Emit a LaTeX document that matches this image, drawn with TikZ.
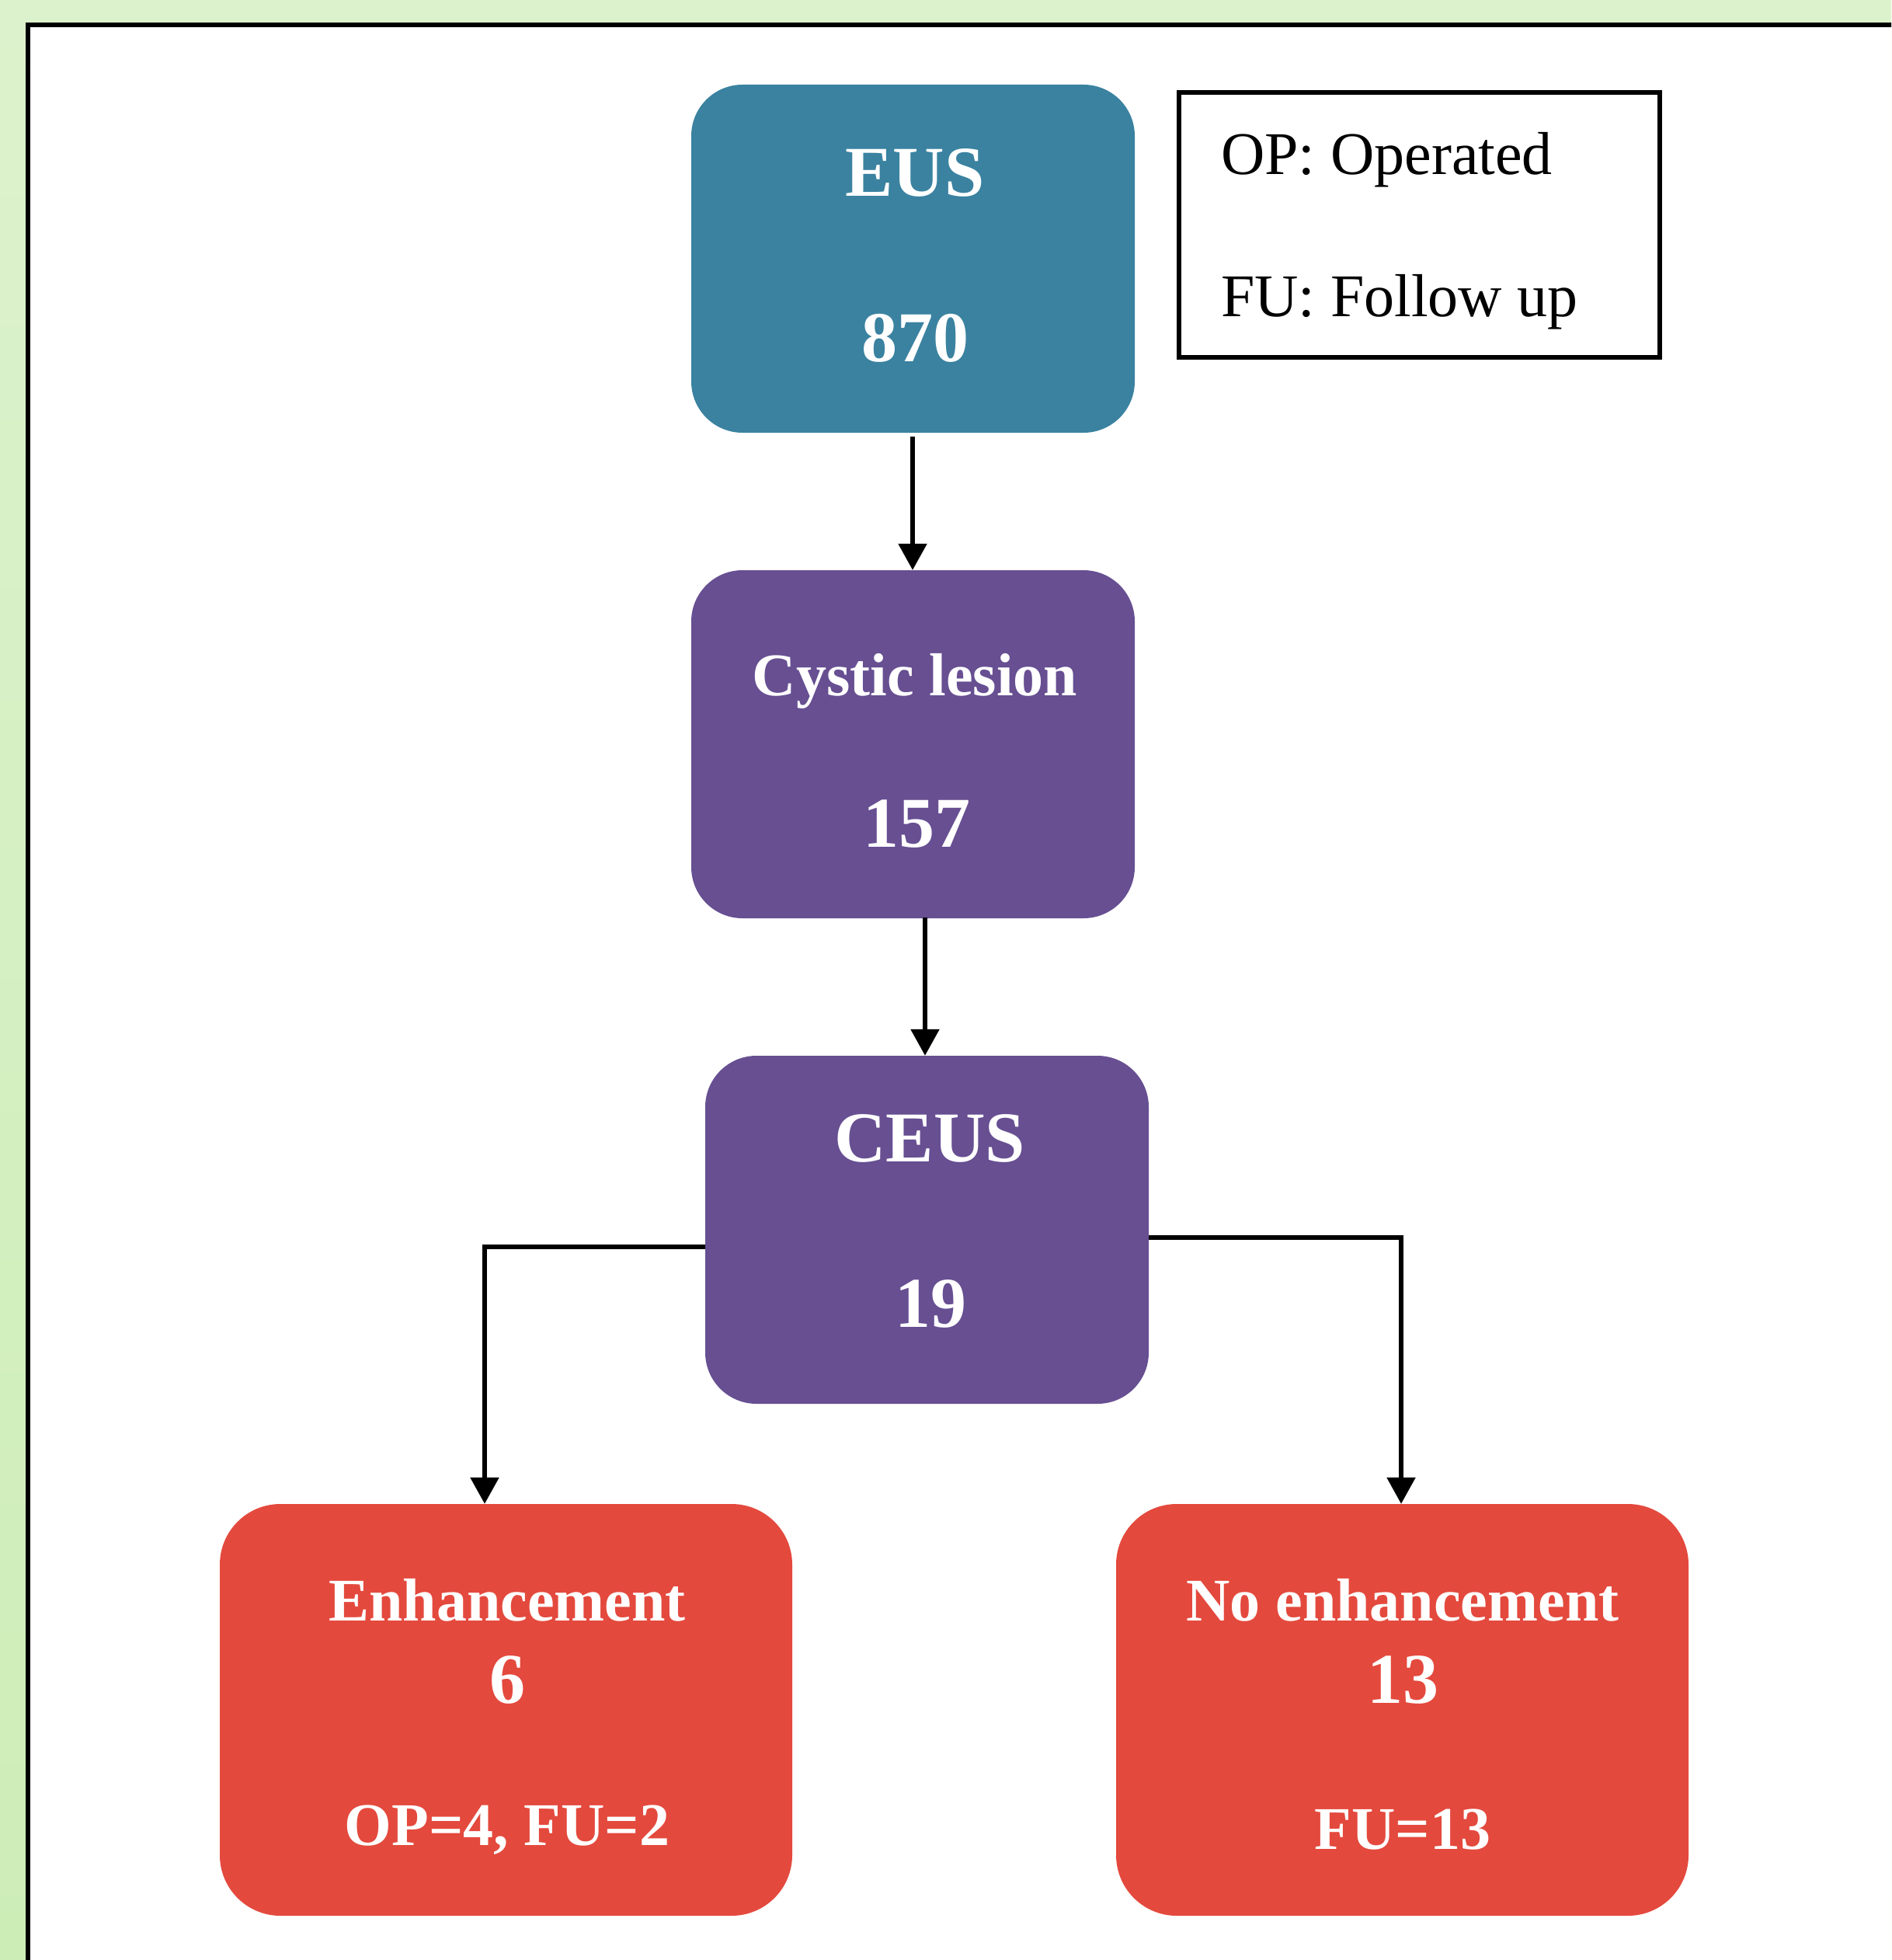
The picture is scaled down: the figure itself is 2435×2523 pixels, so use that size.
\documentclass[tikz,border=0pt]{standalone}
\usepackage{fontspec}
\setmainfont{Liberation Serif}
\usetikzlibrary{arrows.meta,positioning,calc}
\definecolor{eusblue}{HTML}{3A82A0}
\definecolor{lesionpurple}{HTML}{674F92}
\definecolor{resultred}{HTML}{E4493D}
\definecolor{bgtop}{HTML}{DCF2CC}
\definecolor{bgbot}{HTML}{CDEDB7}
\tikzset{
  box/.style={rectangle, rounded corners=66pt, minimum width=571pt, minimum height=448pt, inner sep=0pt, draw=none},
  redbox/.style={rectangle, rounded corners=78pt, minimum width=737pt, minimum height=530pt, inner sep=0pt, draw=none, fill=resultred},
  bigtxt/.style={anchor=base, text=white, font=\fontsize{92}{100}\selectfont\bfseries, inner sep=0pt},
  midtxt/.style={anchor=base, text=white, font=\fontsize{78}{86}\selectfont\bfseries, inner sep=0pt},
  legtxt/.style={anchor=base west, text=black, font=\fontsize{78}{86}\selectfont, inner sep=0pt},
  arr/.style={draw=black, line width=5.5pt, -{Triangle[width=36pt,length=34pt]}}
}
\begin{document}
\begin{tikzpicture}[x=1pt,y=-1pt]
\useasboundingbox (0,0) rectangle (2435,2523);
\clip (0,0) rectangle (2435,2523);
% background
\shade[top color=bgtop, bottom color=bgbot] (0,0) rectangle (2435,2523);
\fill[white] (36,32) rectangle (2470,2560);
\draw[black, line width=5.5pt] (2470,32) -- (36,32) -- (36,2560);

% boxes
\node[box, fill=eusblue] (eus) at (1175.5,333) {};
\node[box, fill=lesionpurple] (cyst) at (1175.5,958) {};
\node[box, fill=lesionpurple] (ceus) at (1193.5,1583) {};
\node[redbox] (enh) at (651.5,2201) {};
\node[redbox] (noenh) at (1805.5,2201) {};
\node[draw=black, line width=5.5pt, rectangle, minimum width=619pt, minimum height=341pt, inner sep=0pt] (legend) at (1827.5,289.5) {};

% texts
\node[bigtxt] (eusA) at (1178,253) {EUS};
\node[bigtxt] (eusB) at (1178,465) {870};
\node[midtxt] (cystA) at (1178,895) {Cystic lesion};
\node[bigtxt] (cystB) at (1180,1090) {157};
\node[bigtxt] (ceusA) at (1197,1495) {CEUS};
\node[bigtxt] (ceusB) at (1198,1708) {19};
\node[midtxt] (enhA) at (653,2086) {Enhancement};
\node[bigtxt] (enhB) at (653,2192) {6};
\node[midtxt] (enhC) at (653,2375) {OP=4, FU=2};
\node[midtxt] (noenhA) at (1806,2086) {No enhancement};
\node[bigtxt] (noenhB) at (1806,2192) {13};
\node[midtxt] (noenhC) at (1806,2380) {FU=13};
\node[legtxt] (legA) at (1572,225) {OP: Operated};
\node[legtxt] (legB) at (1572,407) {FU: Follow up};

% connectors
\coordinate (c1) at (1175,562);
\coordinate (c2) at (1191,1181);
\coordinate (lk) at (624,1605);
\coordinate (rk) at (1804,1593);
\draw[arr] (c1) -- (cyst.north -| c1);
\draw[arr] (c2) -- (ceus.north -| c2);
\draw[arr] (ceus.west |- lk) -- (lk) -- (lk |- enh.north);
\draw[arr] (ceus.east |- rk) -- (rk) -- (rk |- noenh.north);
\end{tikzpicture}
\end{document}
